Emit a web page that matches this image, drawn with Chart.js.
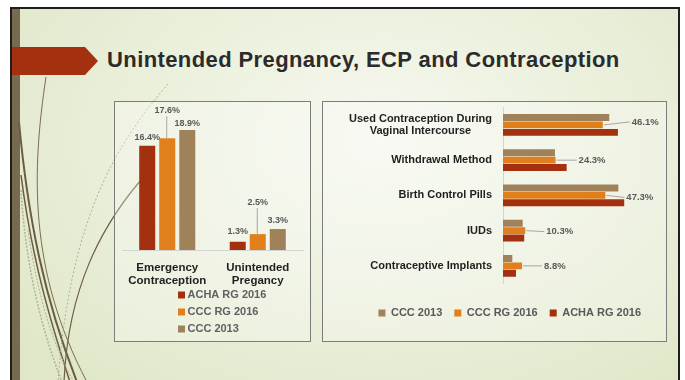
<!DOCTYPE html>
<html>
<head>
<meta charset="utf-8">
<title>Unintended Pregnancy, ECP and Contraception</title>
<script src="https://cdn.jsdelivr.net/npm/chart.js@4/dist/chart.umd.min.js"></script>
<style>
  html, body { margin: 0; padding: 0; background: #fff; width: 685px; height: 380px; overflow: hidden; }
  #slide {
    position: absolute; left: 10px; top: 7px; width: 670px; height: 380px;
    box-sizing: border-box; border: 2px solid #1e1e1e; border-bottom: none;
    background: radial-gradient(ellipse 70% 85% at 55% 35%, #f6f8ef 0%, #ebf0dc 50%, #dfe7c8 100%);
  }
  #strip { position: absolute; left: 12px; top: 9px; width: 8px; height: 371px; background: #766a50; }
  #deco { position: absolute; left: 0; top: 0; }
  .box { position: absolute; box-sizing: border-box; border: 1px solid #7c7c7c; background: rgba(255,255,255,0.28); }
  #ecpBox { left: 114px; top: 101px; width: 197px; height: 241px; }
  #methodBox { left: 322px; top: 101px; width: 345px; height: 241px; }
  canvas { position: absolute; }
  #ecpChart { left: 115px; top: 102px; }
  #methodChart { left: 323px; top: 102px; }
</style>
</head>
<body>
<div id="slide"></div>
<div id="strip"></div>
<svg id="deco" width="685" height="380" xmlns="http://www.w3.org/2000/svg">
  <g fill="none">
    <path d="M46,77 C32,170 28,270 87,382" stroke="#7b6c50" stroke-width="1"/>
    <path d="M19,122 C28,220 45,300 77,382" stroke="#6b5c42" stroke-width="2"/>
    <path d="M21,175 C32,260 50,320 70,382" stroke="#6b5c42" stroke-width="1.5"/>
    <path d="M148,172 C100,225 68,290 64,382" stroke="#6e5f45" stroke-width="1.2"/>
    <path d="M168,84 C115,145 70,220 58,382" stroke="#b3b096" stroke-width="1" stroke-dasharray="2 2"/>
    <path d="M21,190 C26,270 42,330 62,382" stroke="#b3b096" stroke-width="1.5" stroke-dasharray="2 1.5"/>
    <path d="M28,230 C38,300 55,350 74,382" stroke="#b3b096" stroke-width="1" stroke-dasharray="2 1.5"/>
  </g>
  <polygon points="12,47 85,47 98,61 85,75 12,75" fill="#a3310f"/>
  <text x="107" y="67" font-family="'Liberation Sans', Arial, sans-serif" font-weight="bold"
        font-size="22" letter-spacing="0.4" fill="#2b2b2b">Unintended Pregnancy, ECP and Contraception</text>
</svg>
<div class="box" id="ecpBox"></div>
<div class="box" id="methodBox"></div>
<canvas id="ecpChart" width="195" height="239"></canvas>
<canvas id="methodChart" width="343" height="239"></canvas>

<script>
// ---- Emergency contraception / unintended pregnancy (percent of respondents)
const ecpCategories = [['Emergency', 'Contraception'], ['Unintended', 'Pregancy']];
const achaEcp = [16.4, 1.3];
const cccRgEcp = [17.6, 2.5];
const ccc2013Ecp = [18.9, 3.3];

// ---- Contraceptive methods (percent of respondents)
const methodLabels = [['Used Contraception During', 'Vaginal Intercourse'], 'Withdrawal Method',
  'Birth Control Pills', 'IUDs', 'Contraceptive Implants'];
const ccc2013Methods = [49.1, 24.0, 53.3, 9.1, 4.3];
const cccRgMethods = [46.1, 24.3, 47.3, 10.3, 8.8];
const achaMethods = [53.1, 29.4, 56.0, 9.8, 6.0];

const seriesNames = { acha: 'ACHA RG 2016', cccRg: 'CCC RG 2016', ccc2013: 'CCC 2013' };
const COLORS = { acha: '#a3300f', cccRg: '#e07f1c', ccc2013: '#a0825a' };
const FONT = "'Liberation Sans', Arial, sans-serif";

Chart.defaults.font.family = FONT;
Chart.defaults.animation = false;

const pct = v => v.toFixed(1) + '%';

// Value labels above vertical bars; lifted labels get a leader line down to the bar.
const columnValueLabels = {
  id: 'columnValueLabels',
  afterDatasetsDraw(chart, args, o) {
    const { ctx } = chart;
    ctx.save();
    ctx.font = o.font;
    ctx.textAlign = 'center';
    ctx.textBaseline = 'middle';
    chart.data.datasets.forEach((ds, di) => {
      chart.getDatasetMeta(di).data.forEach((bar, i) => {
        const lift = o.lift[di][i];
        const y = bar.y - lift;
        if (lift > 14) {
          ctx.strokeStyle = o.leaderColor;
          ctx.lineWidth = 1;
          ctx.beginPath();
          ctx.moveTo(bar.x - 0.5, y + 6);
          ctx.lineTo(bar.x - 0.5, bar.y);
          ctx.stroke();
        }
        ctx.fillStyle = o.color;
        ctx.fillText(pct(ds.data[i]), bar.x, y);
      });
    });
    ctx.restore();
  }
};

// One-per-row legend listing the series.
const stackedLegend = {
  id: 'stackedLegend',
  afterDraw(chart, args, o) {
    const { ctx } = chart;
    ctx.save();
    ctx.font = o.font;
    ctx.textAlign = 'left';
    ctx.textBaseline = 'middle';
    chart.data.datasets.forEach((ds, i) => {
      const y = o.top + i * o.rowHeight;
      ctx.fillStyle = ds.backgroundColor;
      ctx.fillRect(o.left, y - o.box / 2, o.box, o.box);
      ctx.fillStyle = o.color;
      ctx.fillText(ds.label, o.left + o.box + o.gap, y);
    });
    ctx.restore();
  }
};

// Labels at the ends of horizontal bars of one series, joined by a leader line.
const barEndLabels = {
  id: 'barEndLabels',
  afterDatasetsDraw(chart, args, o) {
    const { ctx } = chart;
    const ds = chart.data.datasets[o.dataset];
    ctx.save();
    ctx.font = o.font;
    ctx.textAlign = 'left';
    ctx.textBaseline = 'middle';
    chart.getDatasetMeta(o.dataset).data.forEach((bar, i) => {
      const [dx, dy] = o.offset[i];
      const tx = bar.x + dx, ty = bar.y + dy;
      ctx.strokeStyle = o.leaderColor;
      ctx.lineWidth = 1;
      ctx.beginPath();
      ctx.moveTo(bar.x + 1, bar.y);
      ctx.lineTo(tx - 2, ty);
      ctx.stroke();
      ctx.fillStyle = o.color;
      ctx.fillText(pct(ds.data[i]), tx, ty);
    });
    ctx.restore();
  }
};

// Category names beside a horizontal bar chart: the block is right-aligned,
// lines inside a block are centred on each other.
const blockTickLabels = {
  id: 'blockTickLabels',
  afterDraw(chart, args, o) {
    const { ctx } = chart;
    const scale = chart.scales.y;
    ctx.save();
    ctx.font = o.font;
    ctx.fillStyle = o.color;
    ctx.textAlign = 'center';
    ctx.textBaseline = 'middle';
    chart.data.labels.forEach((label, i) => {
      const lines = Array.isArray(label) ? label : [label];
      const widest = Math.max(...lines.map(l => ctx.measureText(l).width));
      const cx = chart.chartArea.left - o.gap - widest / 2;
      const y0 = scale.getPixelForTick(i) - (lines.length - 1) * o.lineHeight / 2;
      lines.forEach((l, k) => ctx.fillText(l, cx, y0 + k * o.lineHeight));
    });
    ctx.restore();
  }
};

new Chart(document.getElementById('ecpChart'), {
  type: 'bar',
  data: {
    labels: ecpCategories,
    datasets: [
      { label: seriesNames.acha, data: achaEcp, backgroundColor: COLORS.acha },
      { label: seriesNames.cccRg, data: cccRgEcp, backgroundColor: COLORS.cccRg },
      { label: seriesNames.ccc2013, data: ccc2013Ecp, backgroundColor: COLORS.ccc2013 }
    ]
  },
  options: {
    responsive: false,
    layout: { padding: { left: 7, right: 7, top: 21, bottom: 0 } },
    datasets: { bar: { categoryPercentage: 0.664, barPercentage: 0.8 } },
    scales: {
      x: {
        grid: { display: false },
        border: { display: true, color: '#d4d4d4' },
        ticks: { padding: 3, color: '#1f1f1f', font: { size: 11.5, weight: 'bold', lineHeight: 1.16 } },
        afterFit(s) { s.height = 91; }
      },
      y: { display: false, min: 0, max: 20 }
    },
    plugins: {
      legend: { display: false },
      tooltip: { enabled: false },
      columnValueLabels: {
        font: 'bold 9px ' + FONT, color: '#595959', leaderColor: '#a6a6a6',
        lift: [[8, 10], [28, 32], [6, 9]]
      },
      stackedLegend: {
        font: 'bold 11px ' + FONT, color: '#606060',
        left: 63, top: 193, rowHeight: 17, box: 7, gap: 2.5
      }
    }
  },
  plugins: [columnValueLabels, stackedLegend]
});

new Chart(document.getElementById('methodChart'), {
  type: 'bar',
  data: {
    labels: methodLabels,
    datasets: [
      { label: seriesNames.ccc2013, data: ccc2013Methods, backgroundColor: COLORS.ccc2013 },
      { label: seriesNames.cccRg, data: cccRgMethods, backgroundColor: COLORS.cccRg },
      { label: seriesNames.acha, data: achaMethods, backgroundColor: COLORS.acha }
    ]
  },
  options: {
    indexAxis: 'y',
    responsive: false,
    layout: { padding: { left: 42, right: 11.5, top: 5.3, bottom: 12.5 } },
    datasets: { bar: { categoryPercentage: 0.63, barPercentage: 0.93 } },
    scales: {
      x: {
        min: 0, max: 70,
        grid: { display: false }, border: { display: false }, ticks: { display: false },
        afterFit(s) { s.height = 12; }
      },
      y: {
        grid: { display: false, drawTicks: false },
        border: { display: true, color: '#d4d4d4' },
        ticks: { display: false },
        afterFit(s) { s.width = 138; }
      }
    },
    plugins: {
      legend: {
        position: 'bottom',
        labels: { boxWidth: 7, boxHeight: 7, padding: 12, color: '#595959', font: { size: 11, weight: 'bold' } }
      },
      tooltip: { enabled: false },
      barEndLabels: {
        dataset: 1, font: 'bold 9.5px ' + FONT, color: '#595959', leaderColor: '#a6a6a6',
        offset: [[29, -3], [23, 0], [21, 2], [21, 1], [22, 0]]
      },
      blockTickLabels: { font: 'bold 11px ' + FONT, color: '#1f1f1f', gap: 11, lineHeight: 11.7 }
    }
  },
  plugins: [barEndLabels, blockTickLabels]
});
</script>
</body>
</html>
